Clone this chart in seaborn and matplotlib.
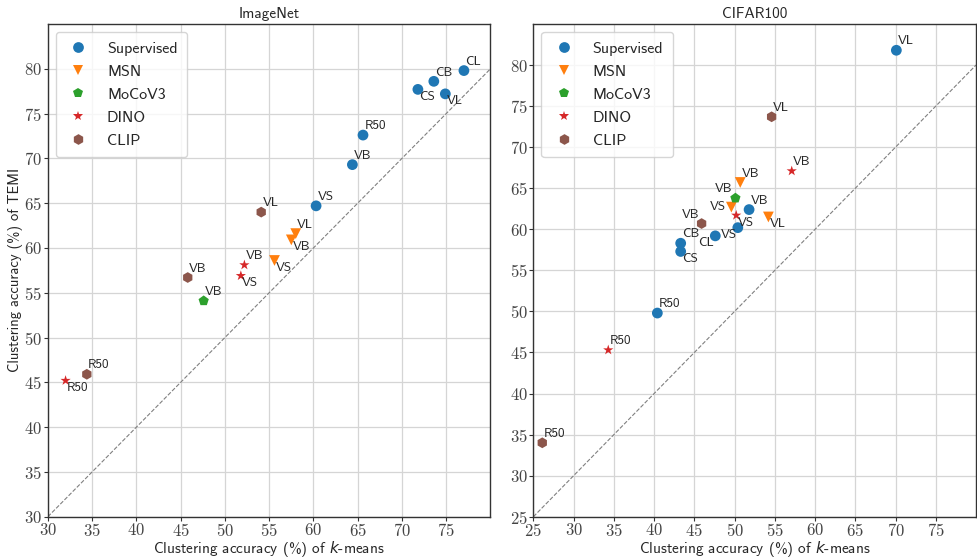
import matplotlib
matplotlib.use("Agg")
import matplotlib.pyplot as plt
import seaborn as sns
import pandas as pd

methods = ["Supervised", "MSN", "MoCoV3", "DINO", "CLIP"]
colors = ["#1f77b4", "#ff7f0e", "#2ca02c", "#d62728", "#8c564b"]
markers = ["o", "v", "p", "*", "h"]

# ImageNet
imagenet_method = ["Supervised"] * 7 + ["MSN"] * 3 + ["MoCoV3"] + ["DINO"] * 3 + ["CLIP"] * 3
imagenet_model = ["CL", "CB", "CS", "VL", "R50", "VB", "VS",
                  "VL", "VB", "VS",
                  "VB",
                  "VB", "VS", "R50",
                  "VL", "VB", "R50"]
imagenet_kmeans = [77.0, 73.6, 71.8, 74.9, 65.6, 64.4, 60.3,
                   58.0, 57.5, 55.6,
                   47.6,
                   52.2, 51.8, 32.0,
                   54.1, 45.8, 34.4]
imagenet_temi = [79.8, 78.6, 77.7, 77.2, 72.6, 69.3, 64.7,
                 61.6, 60.9, 58.6,
                 54.1,
                 58.1, 56.9, 45.2,
                 64.0, 56.7, 45.9]
imagenet_label_pos = ["ur", "ur", "lr", "lr", "ur", "ur", "ur",
                      "ur", "lr", "lr",
                      "ur",
                      "ur", "lr", "lr",
                      "ur", "ur", "ur"]

# CIFAR100
cifar_method = ["Supervised"] * 7 + ["MSN"] * 3 + ["MoCoV3"] + ["DINO"] * 3 + ["CLIP"] * 3
cifar_model = ["VL", "VB", "VS", "CL", "CB", "CS", "R50",
               "VB", "VS", "VL",
               "VB",
               "VB", "VS", "R50",
               "VL", "VB", "R50"]
cifar_kmeans = [70.1, 51.8, 50.4, 47.6, 43.3, 43.3, 40.4,
                50.7, 49.6, 54.2,
                50.1,
                57.1, 50.2, 34.3,
                54.6, 45.9, 26.1]
cifar_temi = [81.8, 62.4, 60.2, 59.2, 58.3, 57.3, 49.8,
              65.7, 62.7, 61.5,
              63.8,
              67.1, 61.7, 45.3,
              73.7, 60.7, 34.0]
cifar_label_pos = ["ur", "ur", "ll", "ll", "ur", "lr", "ur",
                   "ur", "l", "lr",
                   "ul",
                   "ur", "lr", "ur",
                   "ur", "ul", "ur"]

sns.set_style("whitegrid")
plt.rcParams["font.family"] = ["cmss10", "DejaVu Sans"]
plt.rcParams["mathtext.fontset"] = "custom"
plt.rcParams["mathtext.it"] = "DejaVu Sans:italic"
plt.rcParams["axes.formatter.use_mathtext"] = True

offsets = {
    "ur": ((1, 2), "left", "bottom"),
    "lr": ((1, -1), "left", "top"),
    "ll": ((-1, -1), "right", "top"),
    "ul": ((-2, 2), "right", "bottom"),
    "l": ((-4, 0), "right", "center"),
}


def draw_panel(ax, title, method, model, kmeans, temi, label_pos, lims, show_ylabel):
    df = pd.DataFrame({"method": method, "model": model, "kmeans": kmeans, "temi": temi})
    sns.scatterplot(data=df, x="kmeans", y="temi", hue="method", style="method",
                    hue_order=methods, style_order=methods,
                    palette=dict(zip(methods, colors)),
                    markers=dict(zip(methods, markers)),
                    s=60, linewidth=0, ax=ax, zorder=3)
    ax.axline((0, 0), slope=1, color="gray", linestyle="--", linewidth=0.8, zorder=2)

    for xv, yv, name, pos in zip(kmeans, temi, model, label_pos):
        off, ha, va = offsets[pos]
        ax.annotate(name, (xv, yv), xytext=off, textcoords="offset points",
                    ha=ha, va=va, fontsize=9.5, zorder=4)

    ax.set_xlim(lims[0], 80)
    ax.set_ylim(lims[1], 85)
    ax.set_xticks(range(lims[0], 80, 5))
    ax.set_yticks(range(lims[1], 85, 5))
    ax.grid(True, color="#d5d5d5", linewidth=0.9)
    for sp in ax.spines.values():
        sp.set_color("#333333")
        sp.set_linewidth(1.0)
    ax.tick_params(axis="both", which="both", bottom=True, left=True, length=3,
                   color="#333333", labelsize=12, labelcolor="#444444",
                   labelfontfamily="cmr10", pad=1)

    ax.set_title(title, fontsize=11, pad=4)
    ax.set_xlabel("Clustering accuracy (%) of $k$-means", fontsize=11, labelpad=0)
    if show_ylabel:
        ax.set_ylabel("Clustering accuracy (%) of TEMI", fontsize=10.5, labelpad=1)
    else:
        ax.set_ylabel("")

    handles, labels = ax.get_legend_handles_labels()
    ax.legend(handles, labels, loc="upper left", fontsize=11.5, handletextpad=1.0,
              handlelength=1.6, labelspacing=0.55, borderpad=0.6, frameon=True,
              framealpha=0.8, edgecolor="#cccccc", fancybox=True, markerscale=1.0)


fig, (ax1, ax2) = plt.subplots(1, 2, figsize=(9.77, 5.58), dpi=100)
fig.subplots_adjust(left=0.049, right=0.999, bottom=0.074, top=0.957, wspace=0.097)

draw_panel(ax1, "ImageNet", imagenet_method, imagenet_model, imagenet_kmeans,
           imagenet_temi, imagenet_label_pos, (30, 30), True)
draw_panel(ax2, "CIFAR100", cifar_method, cifar_model, cifar_kmeans,
           cifar_temi, cifar_label_pos, (25, 25), False)

fig.savefig("out.png", dpi=100)
